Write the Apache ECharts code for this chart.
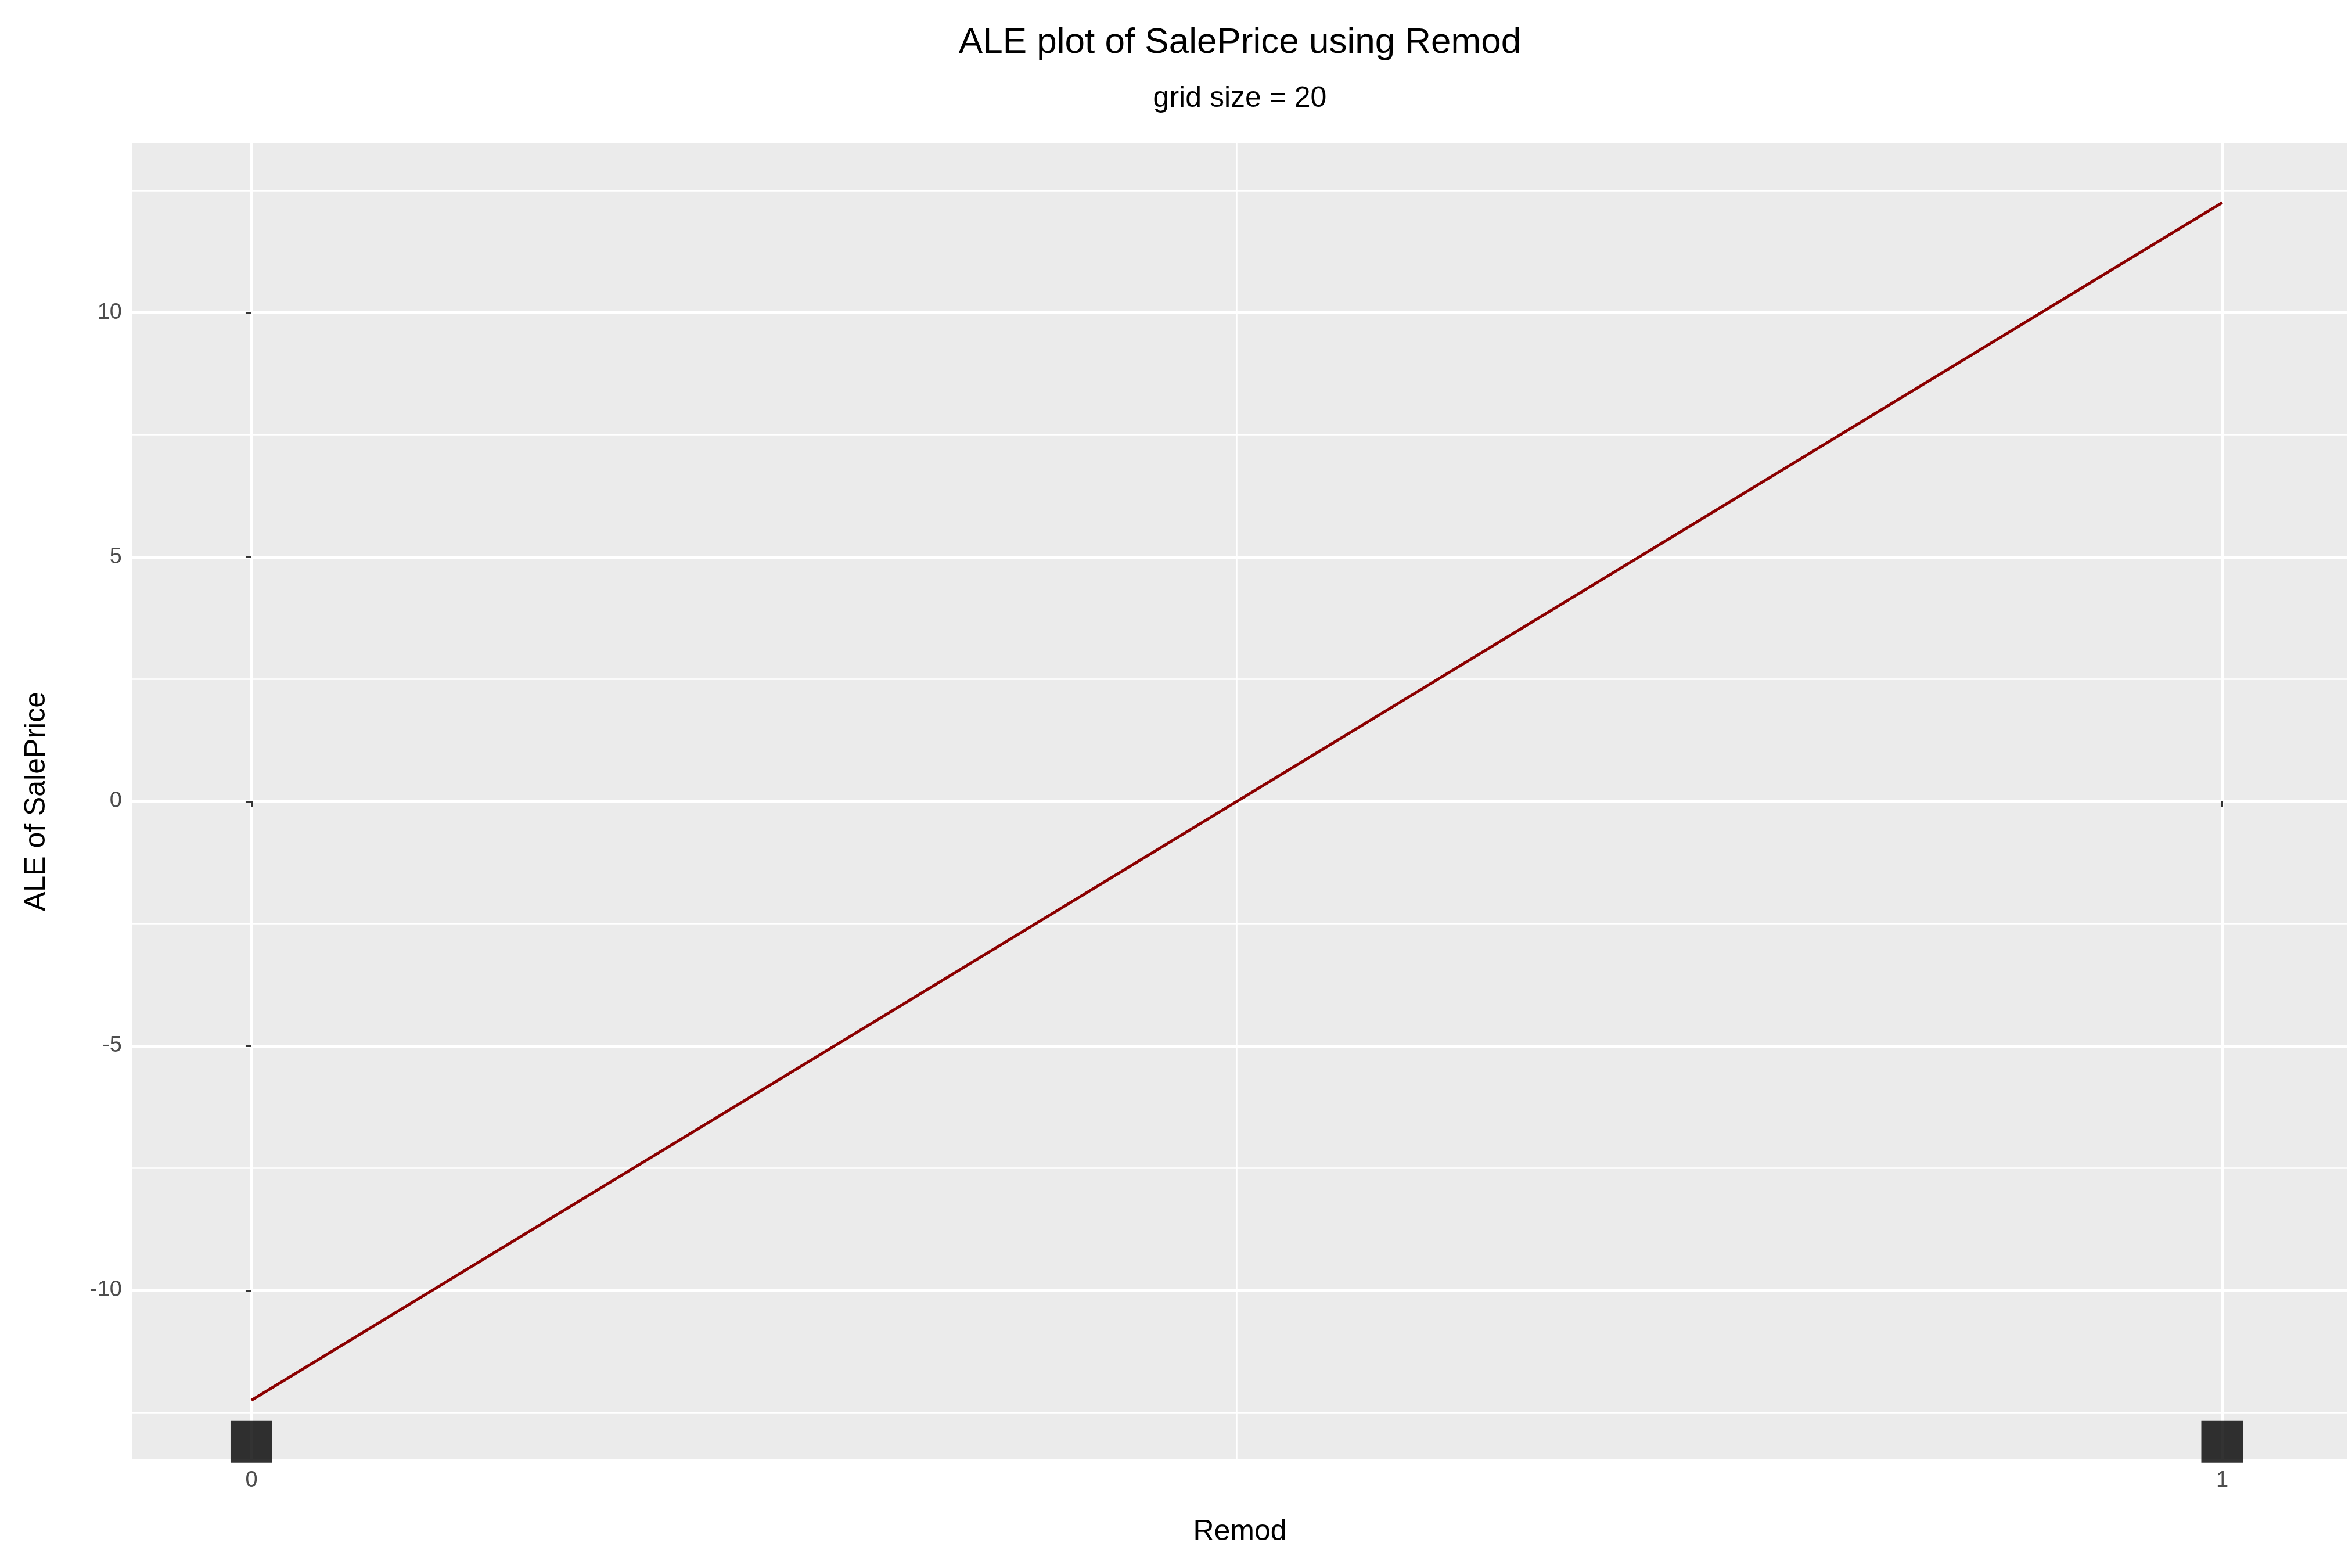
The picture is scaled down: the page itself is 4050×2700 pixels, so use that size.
<!DOCTYPE html>
<html>
<head>
<meta charset="utf-8">
<script src="https://cdn.jsdelivr.net/npm/echarts@6/dist/echarts.min.js"></script>
<style>html,body{margin:0;padding:0;background:#fff}#main{width:4050px;height:2700px}</style>
</head>
<body>
<div id="main"></div>
<script>
// data
var aleX = [0, 1];
var aleY = [-12.25, 12.25];
var rugX = [0, 1];
var rugY = -13.1;
var yTicks = [-10, -5, 0, 5, 10];
var yMinor = [-12.5, -7.5, -2.5, 2.5, 7.5, 12.5];
var xTicks = [0, 1];
var xMinor = [0.5];

var chart = echarts.init(document.getElementById('main'));
var font = 'Liberation Sans, Arial, sans-serif';

function gridLines(vals, axis, w) {
  return vals.map(function (v) {
    var o = {lineStyle: {color: '#fff', width: w, type: 'solid'}};
    o[axis] = v;
    return o;
  });
}

chart.setOption({
  backgroundColor: '#fff',
  animation: false,
  title: [
    {text: 'ALE plot of SalePrice using Remod', left: 2130, top: 38, textAlign: 'center',
     textStyle: {fontFamily: font, fontSize: 62, fontWeight: 'normal', color: '#000'}},
    {text: 'grid size = 20', left: 2130, top: 140, textAlign: 'center',
     textStyle: {fontFamily: font, fontSize: 50, fontWeight: 'normal', color: '#000'}}
  ],
  grid: {left: 228, right: 8, top: 247, bottom: 187, backgroundColor: '#EBEBEB', show: true, borderWidth: 0},
  xAxis: {
    type: 'value', min: -0.0604, max: 1.0635,
    name: 'Remod', nameLocation: 'middle', nameGap: 100,
    nameTextStyle: {fontFamily: font, fontSize: 50, color: '#000'},
    axisLine: {show: false},
    axisTick: {show: true, customValues: xTicks, length: 10, lineStyle: {color: '#333', width: 3}},
    axisLabel: {customValues: xTicks, fontFamily: font, fontSize: 38, color: '#4D4D4D', margin: 18},
    splitLine: {show: false}
  },
  yAxis: {
    type: 'value', min: -13.46, max: 13.46,
    name: 'ALE of SalePrice', nameLocation: 'middle', nameGap: 140,
    nameTextStyle: {fontFamily: font, fontSize: 50, color: '#000'},
    axisLine: {show: false},
    axisTick: {show: true, customValues: yTicks, length: 10, lineStyle: {color: '#333', width: 3}},
    axisLabel: {customValues: yTicks, fontFamily: font, fontSize: 38, color: '#4D4D4D', margin: 18},
    splitLine: {show: false}
  },
  series: [
    {
      type: 'line', data: [], silent: true, z: 0, zlevel: 0,
      markLine: {
        symbol: 'none', silent: true, label: {show: false}, z: 0,
        data: gridLines(yMinor, 'yAxis', 2.5).concat(gridLines(xMinor, 'xAxis', 2.5))
          .concat(gridLines(yTicks, 'yAxis', 5)).concat(gridLines(xTicks, 'xAxis', 5))
      }
    },
    {
      type: 'line', showSymbol: false, z: 5, zlevel: 1,
      data: aleX.map(function (x, i) { return [x, aleY[i]]; }),
      lineStyle: {color: '#8B0000', width: 5}
    },
    {
      type: 'scatter', symbol: 'rect', symbolSize: 72, z: 6, zlevel: 1,
      data: rugX.map(function (x) { return [x, rugY]; }),
      itemStyle: {color: '#000'}
    }
  ]
});
</script>
</body>
</html>
